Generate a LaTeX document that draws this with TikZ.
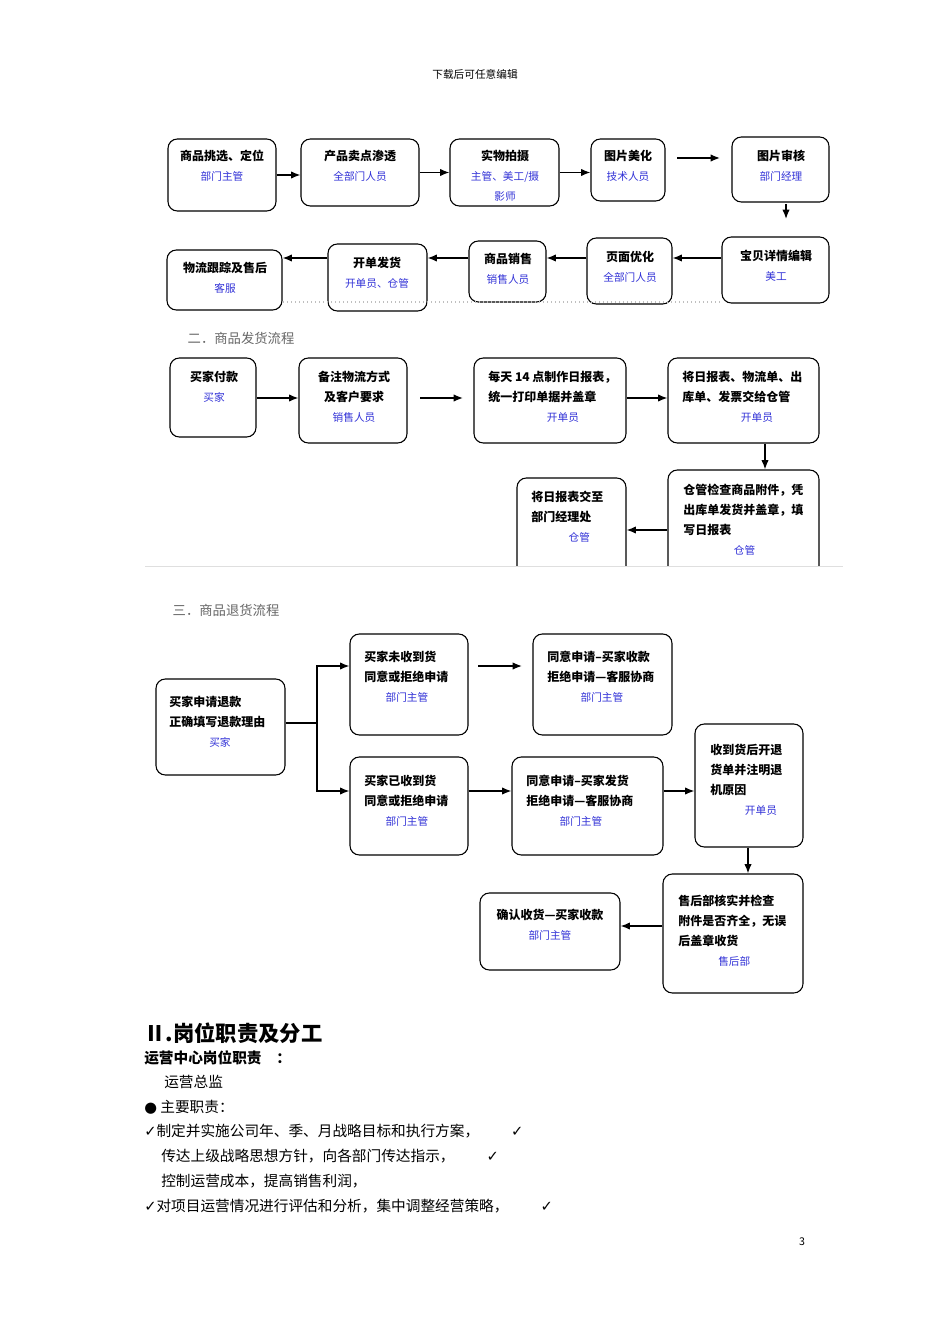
\documentclass[tikz,border=0pt]{standalone}
\usepackage{fontspec}
\setmainfont{Noto Sans CJK SC}
\newfontfamily\sym{DejaVu Sans}
\usetikzlibrary{arrows.meta}
\definecolor{rb}{RGB}{50,50,215}
\tikzset{box/.style={draw,line width=0.8pt,rounded corners=7pt,inner sep=0pt},
 arr/.style={line width=1pt,-{Latex[length=7pt,width=5.5pt]}},
 tx/.style={align=center,font=\fontsize{9}{15}\selectfont\bfseries,inner sep=0pt},
 txl/.style={anchor=west,align=left,font=\fontsize{9}{15}\selectfont\bfseries,inner sep=0pt},
 body/.style={anchor=west,font=\fontsize{11}{13}\selectfont,inner sep=0pt}}
\newcommand\rl[1]{{\color{rb}\mdseries\fontsize{8}{15}\selectfont #1}}
\newcommand\bx[5]{\pgfmathsetmacro\ww{(#4-#2)*0.75}\pgfmathsetmacro\hh{(#5-#3)*0.75}%
\node[box,minimum width=\ww pt,minimum height=\hh pt] (#1) at ({(#2+#4)/2},{(#3+#5)/2}) {};}
\begin{document}
\begin{tikzpicture}[x=0.75pt,y=-0.75pt]
\useasboundingbox[fill=white] (0,0) rectangle (950,1344);
\node[font=\fontsize{8}{10}\selectfont] (hdr) at (475,74) {下载后可任意编辑};
% section 1
\bx{a1}{168}{139}{276}{211}\node[tx] at (222,166) {商品挑选、定位\\\rl{部门主管}};
\bx{a2}{301}{139}{419}{206}\node[tx] at (360,166) {产品卖点渗透\\\rl{全部门人员}};
\bx{a3}{450}{139}{559}{206}\node[tx] at (505,176) {实物拍摄\\\rl{主管、美工/摄}\\\rl{影师}};
\bx{a4}{591}{139}{665}{201}\node[tx] at (628,166) {图片美化\\\rl{技术人员}};
\bx{a5}{732}{137}{829}{202}\node[tx] at (781,166) {图片审核\\\rl{部门经理}};
\bx{a6}{722}{237}{829}{303}\node[tx] at (776,266) {宝贝详情编辑\\\rl{美工}};
\bx{a7}{587}{238}{672}{304}\node[tx] at (630,267) {页面优化\\\rl{全部门人员}};
\bx{a8}{469}{241}{546}{302}\node[tx] at (508,269) {商品销售\\\rl{销售人员}};
\bx{a9}{328}{244}{427}{311}\node[tx] at (377,273) {开单发货\\\rl{开单员、仓管}};
\bx{a10}{167}{250}{282}{310}\node[tx] at (225,278) {物流跟踪及售后\\\rl{客服}};
\draw[gray!50,dotted,line width=1pt] (283,302) -- (722,302);
\draw[arr] (a1.east) -- (a1.east -| a2.west);
\draw[arr] (a2.east) -- (a2.east -| a3.west);
\draw[arr] (a3.east) -- (a3.east -| a4.west);
\coordinate (g1) at (677,158); \coordinate (g2) at (720,158);
\draw[arr] (g1) -- (g2);
\coordinate (g3) at (786,204); \draw[arr] (g3) -- (786,219);
\draw[arr] (a6.west |- 0,258) -- (a7.east |- 0,258);
\draw[arr] (a7.west |- 0,258) -- (a8.east |- 0,258);
\draw[arr] (a8.west |- 0,258) -- (a9.east |- 0,258);
\draw[arr] (a9.west |- 0,258) -- (a10.east |- 0,258);
% section 2
\node[anchor=west,gray!80!black,font=\fontsize{10}{12}\selectfont] (h2) at (183,338) {二．商品发货流程};
\bx{b1}{170}{358}{256}{437}\node[tx] at (214,387) {买家付款\\\rl{买家}};
\bx{b2}{299}{358}{407}{443}\node[tx] at (354,397) {备注物流方式\\及客户要求\\\rl{销售人员}};
\bx{b3}{474}{358}{626}{443}\node[txl] at (488,397) {每天 14 点制作日报表，\\统一打印单据并盖章\\\hspace*{44pt}\rl{开单员}};
\bx{b4}{668}{358}{819}{443}\node[txl] at (682,397) {将日报表、物流单、出\\库单、发票交给仓管\\\hspace*{44pt}\rl{开单员}};
\bx{b5}{668}{470}{819}{585}\node[txl] at (683,520) {仓管检查商品附件，凭\\出库单发货并盖章，填\\写日报表\\\hspace*{38pt}\rl{仓管}};
\bx{b6}{517}{478}{626}{585}\node[txl] at (531,517) {将日报表交至\\部门经理处\\\hspace*{28pt}\rl{仓管}};
\fill[white] (140,567) rectangle (850,590);
\draw[gray!25,line width=0.6pt] (145,566.5) -- (843,566.5);
\draw[arr] (b1.east |- 0,398) -- (b2.west |- 0,398);
\coordinate (g4) at (420,398); \draw[arr] (g4) -- (463,398);
\draw[arr] (b3.east |- 0,398) -- (b4.west |- 0,398);
\draw[arr] (b4.south -| 765,0) -- (b5.north -| 765,0);
\draw[arr] (b5.west |- 0,530) -- (b6.east |- 0,530);
% section 3
\node[anchor=west,gray!80!black,font=\fontsize{10}{12}\selectfont] (h3) at (168,610) {三．商品退货流程};
\bx{c1}{156}{679}{285}{775}\node[txl] at (169,722) {买家申请退款\\正确填写退款理由\\\hspace*{30pt}\rl{买家}};
\bx{c2}{350}{634}{468}{735}\node[txl] at (364,677) {买家未收到货\\同意或拒绝申请\\\hspace*{16pt}\rl{部门主管}};
\bx{c3}{533}{634}{672}{735}\node[txl] at (547,677) {同意申请--买家收款\\拒绝申请—客服协商\\\hspace*{25pt}\rl{部门主管}};
\bx{c4}{350}{757}{468}{855}\node[txl] at (364,801) {买家已收到货\\同意或拒绝申请\\\hspace*{16pt}\rl{部门主管}};
\bx{c5}{512}{757}{663}{855}\node[txl] at (526,801) {同意申请--买家发货\\拒绝申请—客服协商\\\hspace*{25pt}\rl{部门主管}};
\bx{c6}{695}{724}{803}{847}\node[txl] at (710,780) {收到货后开退\\货单并注明退\\机原因\\\hspace*{26pt}\rl{开单员}};
\bx{c7}{663}{874}{803}{993}\node[txl] at (678,931) {售后部核实并检查\\附件是否齐全，无误\\后盖章收货\\\hspace*{30pt}\rl{售后部}};
\bx{c8}{480}{893}{620}{970}\node[tx] at (550,925) {确认收货—买家收款\\\rl{部门主管}};
\coordinate (j) at (317,723);
\draw[line width=1pt] (c1.east |- j) -- (j);
\draw[arr] (j) |- (c2.west |- 0,666);
\draw[arr] (j) |- (c4.west |- 0,791);
\coordinate (g5) at (478,666); \draw[arr] (g5) -- (522,666);
\draw[arr] (c4.east |- 0,791) -- (c5.west |- 0,791);
\draw[arr] (c5.east |- 0,791) -- (c6.west |- 0,791);
\draw[arr] (c6.south -| 748,0) -- (c7.north -| 748,0);
\draw[arr] (c7.west |- 0,926) -- (c8.east |- 0,926);
% text
\node[body,font=\fontsize{16}{18}\selectfont\bfseries] (t1) at (144,1033) {Ⅱ.岗位职责及分工};
\node[body,font=\fontsize{11}{13}\selectfont\bfseries] (t2) at (144,1058) {运营中心岗位职责\quad ：};
\node[body] (t3) at (164,1082) {运营总监};
\node[body] (t4) at (144,1107) {{\sym ●} 主要职责：};
\node[body] (t5) at (144,1131) {{\sym ✓}制定并实施公司年、季、月战略目标和执行方案，\hspace{24pt}{\sym ✓}};
\node[body] (t6) at (161,1156) {传达上级战略思想方针，向各部门传达指示，\hspace{24pt}{\sym ✓}};
\node[body] (t7) at (161,1181) {控制运营成本，提高销售利润，};
\node[body] (t8) at (144,1206) {{\sym ✓}对项目运营情况进行评估和分析，集中调整经营策略，\hspace{24pt}{\sym ✓}};
\node[font=\fontsize{8}{10}\selectfont] (pg) at (802,1242) {3};
\end{tikzpicture}
\end{document}
